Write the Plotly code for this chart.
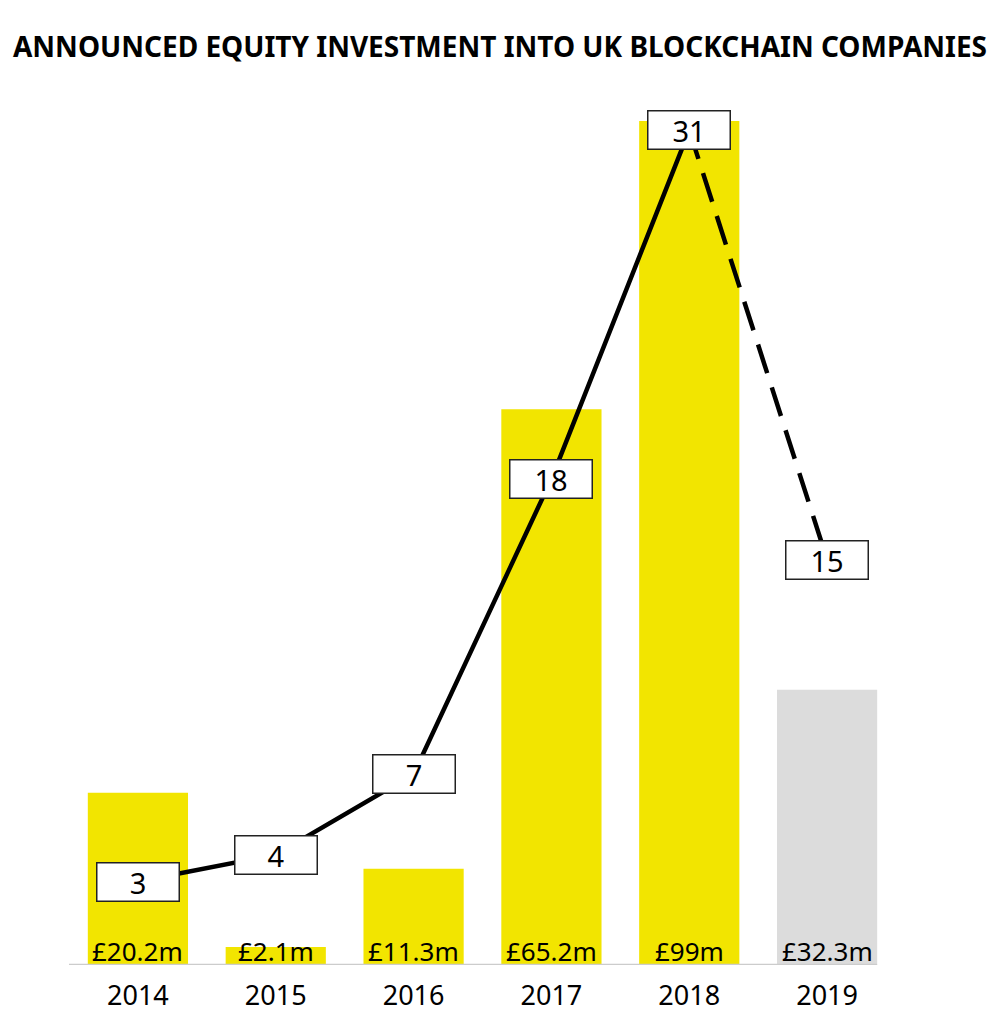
import plotly.graph_objects as go

years = ["2014", "2015", "2016", "2017", "2018", "2019"]
investment = [20.2, 2.1, 11.3, 65.2, 99, 32.3]
investment_labels = ["£20.2m", "£2.1m", "£11.3m", "£65.2m", "£99m", "£32.3m"]
deal_counts = [3, 4, 7, 18, 31, 15]
title_text = "ANNOUNCED EQUITY INVESTMENT INTO UK BLOCKCHAIN COMPANIES"

YELLOW = "#F2E500"
GREY = "#DCDCDC"
FONT = "Noto Sans"

bar_colors = [YELLOW] * 5 + [GREY]

fig = go.Figure()
fig.add_trace(go.Bar(
    x=years, y=investment, marker=dict(color=bar_colors, line=dict(width=0)),
    width=0.727, yaxis="y", hoverinfo="skip", showlegend=False,
))
fig.add_trace(go.Scatter(
    x=years[:5], y=deal_counts[:5], mode="lines", yaxis="y2",
    line=dict(color="black", width=4.5), showlegend=False, hoverinfo="skip",
))
fig.add_trace(go.Scatter(
    x=years[4:], y=deal_counts[4:], mode="lines", yaxis="y2",
    line=dict(color="black", width=4.5, dash="30px,15px"), showlegend=False, hoverinfo="skip",
))

for i, v in enumerate(deal_counts):
    fig.add_annotation(
        x=i, y=v, xref="x", yref="y2", text=str(v), showarrow=False,
        bgcolor="white", bordercolor="#222222", borderwidth=1.5, borderpad=1,
        width=79, height=35, font=dict(family=FONT, size=29, color="black"),
    )
for i, lab in enumerate(investment_labels):
    fig.add_annotation(
        x=i, y=0, xref="x", yref="y", text=lab, showarrow=False,
        yanchor="bottom", yshift=-6, font=dict(family=FONT, size=26, color="black"),
    )

fig.update_layout(
    width=992, height=1020,
    margin=dict(l=61, r=104, t=92, b=63),
    paper_bgcolor="white", plot_bgcolor="white",
    title=dict(text="<b>" + title_text + "</b>", x=0.496, xanchor="center", y=0.9618, yanchor="middle",
               font=dict(family=FONT, size=28, color="black")),
    xaxis=dict(type="category", showgrid=False, zeroline=False, showline=False, ticks="",
               ticklabelstandoff=12,
               tickfont=dict(family=FONT, size=27, color="black"), range=[-0.5, 5.5]),
    yaxis=dict(range=[0, 101.47], visible=False, showgrid=False, zeroline=False),
    yaxis2=dict(range=[-0.112, 32.13], overlaying="y", visible=False, showgrid=False, zeroline=False),
    shapes=[dict(type="line", xref="x", yref="y", x0=-0.515, x1=5.363, y0=0, y1=0,
                 line=dict(color="#CCCCCC", width=2.5), layer="above")],
    bargap=0.27,
)

fig.write_html("out.html")
